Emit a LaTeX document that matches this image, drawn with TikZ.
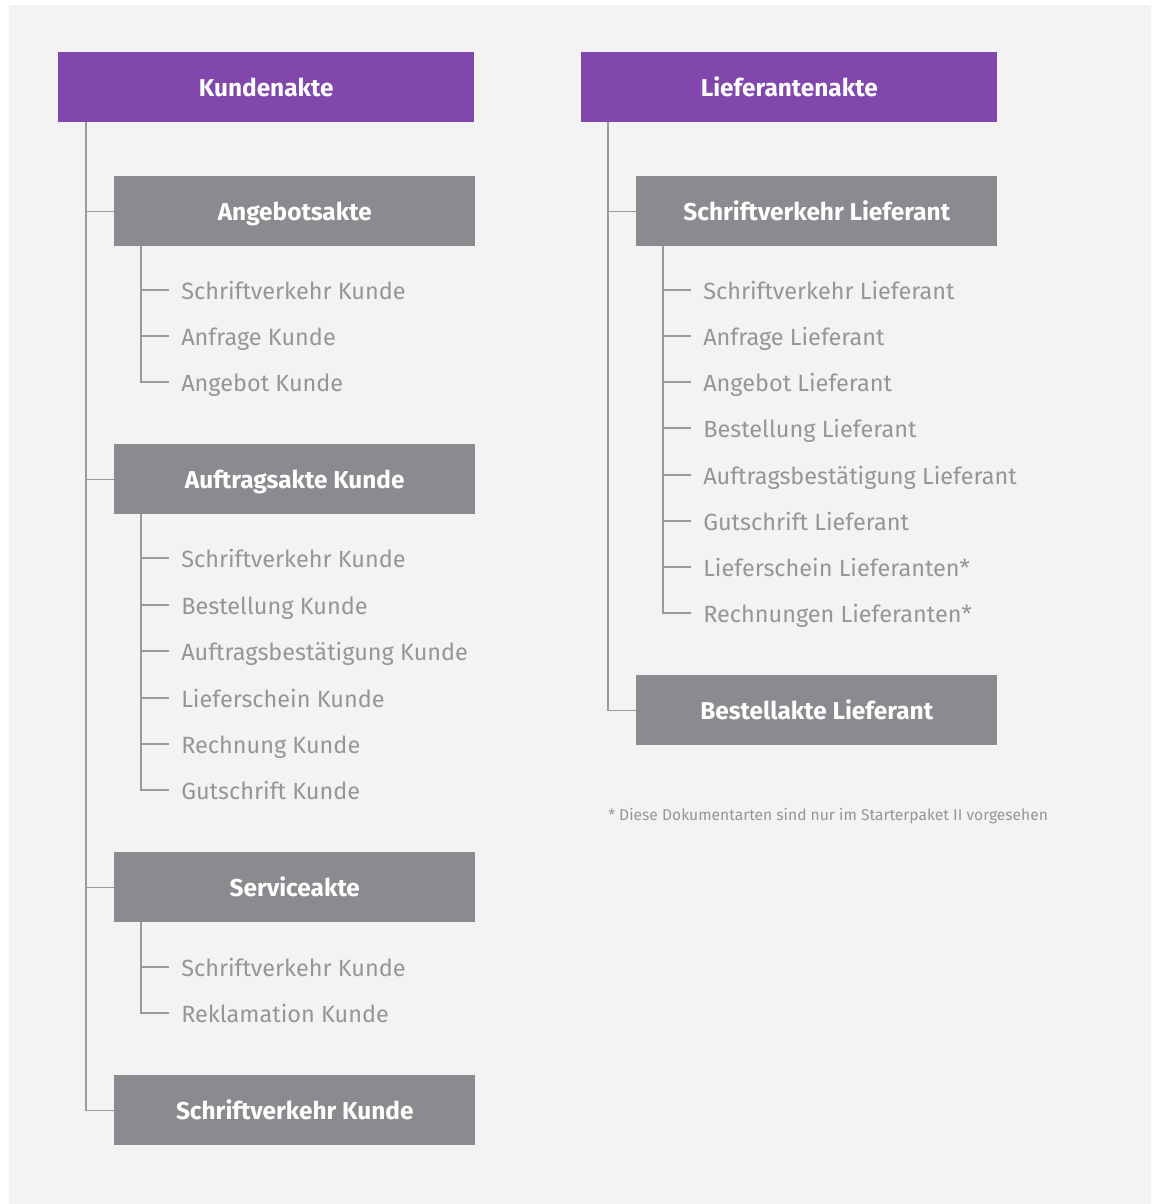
\documentclass[tikz,border=0pt]{standalone}
\usepackage{fontspec}
\setmainfont{Fira Sans}
\definecolor{bgc}{HTML}{F2F3F2}
\definecolor{purp}{HTML}{8247AD}
\definecolor{boxg}{HTML}{898B8E}
\definecolor{itemc}{HTML}{94969A}
\definecolor{linec}{HTML}{9A9A9A}
\tikzset{
  headbox/.style={fill=purp, text=white, font=\bfseries\fontsize{18.3}{20}\selectfont, minimum width=312pt, minimum height=52.5pt, inner sep=0pt, text height=14pt, text depth=0pt, anchor=north west},
  subbox/.style={fill=boxg, text=white, font=\bfseries\fontsize{18.3}{20}\selectfont, minimum width=270.75pt, minimum height=52.5pt, inner sep=0pt, text height=14pt, text depth=0pt, anchor=north west},
  item/.style={text=itemc, font=\fontsize{17.6}{20}\selectfont, anchor=west, inner xsep=9pt, inner ysep=0pt, text height=13.5pt, text depth=0pt},
  conn/.style={draw=linec, line width=0.9pt},
  foot/.style={text=itemc, font=\fontsize{11.7}{13}\selectfont, anchor=west, inner sep=0pt, text height=9pt, text depth=0pt}
}
\begin{document}
\begin{tikzpicture}[x=0.75pt,y=-0.75pt]
\useasboundingbox (0,0) rectangle (1156,1204);
\fill[white] (0,0) rectangle (1156,1204);
\fill[bgc] (9,5) rectangle (1151,1204);
% left column
\node[headbox] (kund) at (58,52) {Kundenakte};
\node[subbox] (ang) at (114,176) {Angebotsakte};
\node[subbox] (auf) at (114,444) {Auftragsakte Kunde};
\node[subbox] (serv) at (114,852) {Serviceakte};
\node[subbox] (skb) at (114,1075) {Schriftverkehr Kunde};
\coordinate (k0) at (86,122);
\draw[conn] (k0) |- (ang.west);
\draw[conn] (k0) |- (auf.west);
\draw[conn] (k0) |- (serv.west);
\draw[conn] (k0) |- (skb.west);
% Angebotsakte items
\node[item] (a1) at (169,290) {Schriftverkehr Kunde};
\node[item] (a2) at (169,336) {Anfrage Kunde};
\node[item] (a3) at (169,382) {Angebot Kunde};
\coordinate (a0) at (141,246);
\foreach \n in {a1,a2,a3} \draw[conn] (a0) |- (\n.west);
% Auftragsakte items
\node[item] (b1) at (169,558) {Schriftverkehr Kunde};
\node[item] (b2) at (169,605) {Bestellung Kunde};
\node[item] (b3) at (169,651) {Auftragsbestätigung Kunde};
\node[item] (b4) at (169,698) {Lieferschein Kunde};
\node[item] (b5) at (169,744) {Rechnung Kunde};
\node[item] (b6) at (169,790) {Gutschrift Kunde};
\coordinate (b0) at (141,514);
\foreach \n in {b1,b2,b3,b4,b5,b6} \draw[conn] (b0) |- (\n.west);
% Serviceakte items
\node[item] (c1) at (169,967) {Schriftverkehr Kunde};
\node[item] (c2) at (169,1013) {Reklamation Kunde};
\coordinate (c0) at (141,922);
\foreach \n in {c1,c2} \draw[conn] (c0) |- (\n.west);
% right column
\node[headbox] (lief) at (581,52) {Lieferantenakte};
\node[subbox] (svl) at (636,176) {Schriftverkehr Lieferant};
\node[subbox] (bel) at (636,675) {Bestellakte Lieferant};
\coordinate (l0) at (608,122);
\draw[conn] (l0) |- (svl.west);
\draw[conn] (l0) |- (bel.west);
\node[item] (d1) at (691,290) {Schriftverkehr Lieferant};
\node[item] (d2) at (691,336) {Anfrage Lieferant};
\node[item] (d3) at (691,382) {Angebot Lieferant};
\node[item] (d4) at (691,428) {Bestellung Lieferant};
\node[item] (d5) at (691,475) {Auftragsbestätigung Lieferant};
\node[item] (d6) at (691,521) {Gutschrift Lieferant};
\node[item] (d7) at (691,567) {Lieferschein Lieferanten*};
\node[item] (d8) at (691,613) {Rechnungen Lieferanten*};
\coordinate (d0) at (663,246);
\foreach \n in {d1,d2,d3,d4,d5,d6,d7,d8} \draw[conn] (d0) |- (\n.west);
\node[foot] (fn) at (608,814) {* Diese Dokumentarten sind nur im Starterpaket II vorgesehen};
\end{tikzpicture}
\end{document}
